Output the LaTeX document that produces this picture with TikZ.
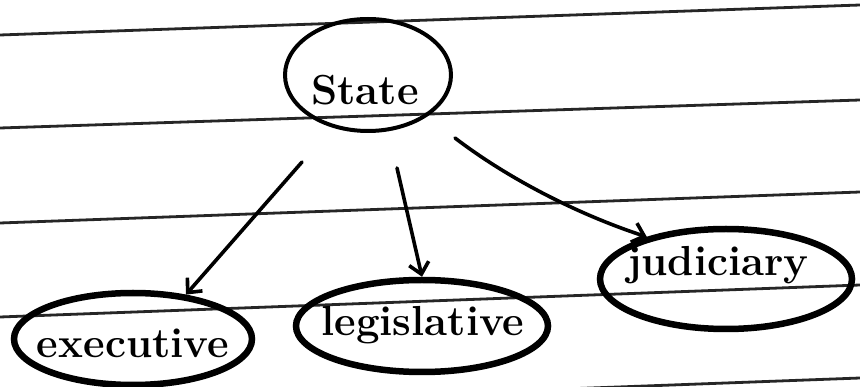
\documentclass[tikz,border=0pt]{standalone}
\usetikzlibrary{arrows.meta,shapes.geometric}
\begin{document}
\begin{tikzpicture}[x=1pt,y=-1pt,
  rule/.style={line width=2.8pt, black!85},
  bubble/.style={ellipse, draw, line width=6.5pt, inner sep=0pt},
  word/.style={font=\fontsize{42}{48}\selectfont\bfseries, inner sep=0pt},
  link/.style={line width=3.6pt, line cap=round,
    -{Straight Barb[length=11pt,width=20pt]}}]
\useasboundingbox (0,0) rectangle (860,387);
\fill[white] (0,0) rectangle (860,387);
\begin{scope}
\clip (0,0) rectangle (860,387);
% ruled lines of the notebook page
\draw[rule] (0,35) -- (860,5);
\draw[rule] (0,128) -- (860,100);
\draw[rule] (0,223) -- (860,192);
\draw[rule] (0,317) -- (860,285);
\draw[rule] (0,410) -- (860,378);
\end{scope}
% bubbles
\node[bubble, line width=4pt, minimum width=166pt, minimum height=112pt] (st) at (368,75) {};
\node[bubble, minimum width=238pt, minimum height=92pt] (ex) at (133,339) {};
\node[bubble, minimum width=252pt, minimum height=92pt] (lg) at (422,326) {};
\node[bubble, minimum width=252pt, minimum height=100pt] (jd) at (726,279) {};
% labels
\node[word] (tst) at (365,90) {State};
\node[word] (tex) at (133,343) {executive};
\node[word] (tlg) at (423,325) {legislative};
\node[word] (tjd) at (718,265) {judiciary};
% arrows from the state to its three organs
\coordinate (s1) at (302,162);
\coordinate (s2) at (397,168);
\coordinate (s3) at (455,138);
\draw[link] (s1) -- (ex.40);
\draw[link] (s2) -- (lg.north);
\draw[link] (s3) .. controls (510,180) and (580,215) .. (jd.152);
\end{tikzpicture}
\end{document}
